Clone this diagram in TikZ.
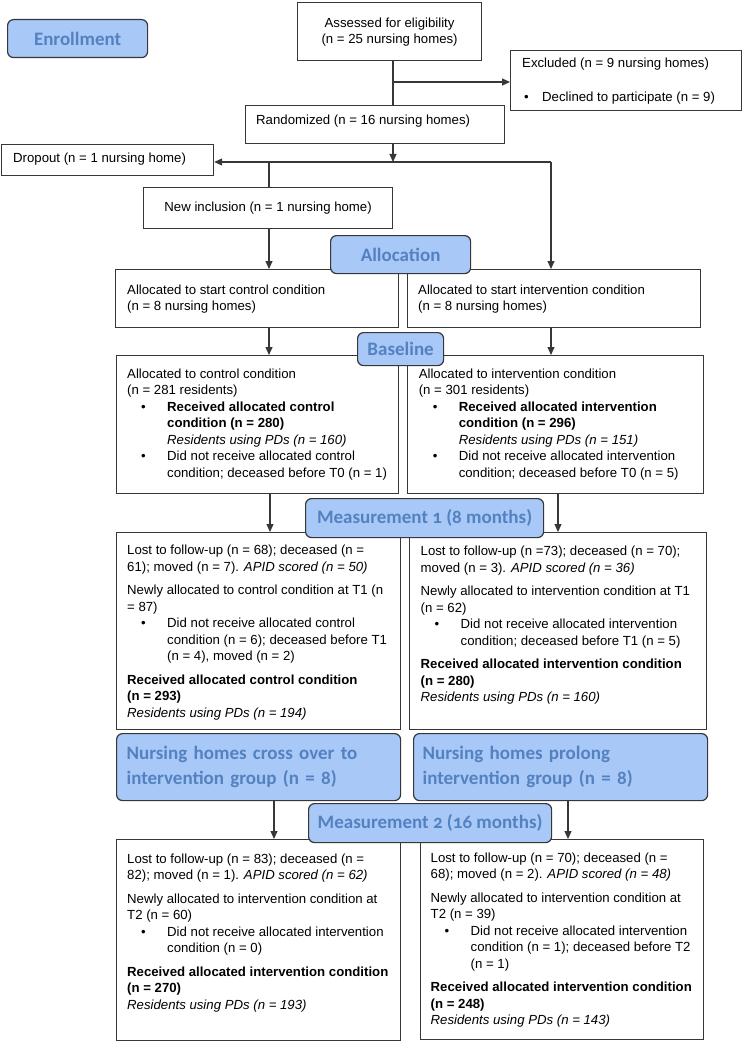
\documentclass[tikz,border=0pt]{standalone}
\usepackage{fontspec}
\setmainfont{Liberation Sans}
\newfontfamily\hdrfont{Carlito}[Numbers=OldStyle]
\usetikzlibrary{arrows.meta}
\definecolor{hfill}{RGB}{168,200,248}
\definecolor{htext}{RGB}{84,130,192}
\definecolor{bline}{RGB}{55,55,55}
\newcommand\st{\rule{0pt}{12pt}}
\newcommand\bul{\hspace*{14pt}\makebox[26pt][l]{\textbullet}}
\newcommand\cont{\hspace*{40pt}}
\begin{document}
\begin{tikzpicture}[x=1pt,y=-1pt,
  bx/.style={draw=bline, line width=1.2pt, fill=white, inner sep=0pt, anchor=north west},
  hd/.style={draw=bline, line width=1.2pt, fill=hfill, rounded corners=6pt, inner sep=0pt, anchor=north west, text=htext, font=\hdrfont\bfseries\fontsize{19}{25}\selectfont},
  tx/.style={inner sep=0pt, anchor=north west, align=left, font=\fontsize{13.2}{16.5}\selectfont},
  conn/.style={draw=bline, line width=1.1pt},
  arr/.style={conn, -{Triangle[length=8pt,width=7pt]}}
]
\useasboundingbox (0,0) rectangle (744,1043);

% content boxes
\node[bx, minimum width=184, minimum height=58, align=center, font=\fontsize{13.2}{16}\selectfont] (assess) at (297,2) {Assessed for eligibility\\(n = 25 nursing homes)};
\node[bx, minimum width=231, minimum height=60] (excl) at (510,50) {};
\node[bx, minimum width=259, minimum height=38] (rand) at (245,105) {};
\node[bx, minimum width=212, minimum height=31] (drop) at (1,144) {};
\node[bx, minimum width=249, minimum height=41, font=\fontsize{13.2}{16}\selectfont] (newinc) at (143,187) {New inclusion (n = 1 nursing home)};
\node[bx, minimum width=283, minimum height=58] (allocC) at (115,269) {};
\node[bx, minimum width=293, minimum height=58] (allocI) at (407,269) {};
\node[bx, minimum width=282, minimum height=138] (baseL) at (116,355) {};
\node[bx, minimum width=296, minimum height=138] (baseR) at (407,355) {};
\node[bx, minimum width=284, minimum height=197] (m1L) at (116,532) {};
\node[bx, minimum width=297, minimum height=197] (m1R) at (409,532) {};
\node[bx, minimum width=284, minimum height=201] (m2L) at (116,839) {};
\node[bx, minimum width=283, minimum height=200] (m2R) at (420,839) {};

% texts
\node[tx] (t-excl) at (522,55.8) {\st Excluded (n = 9 nursing homes)\\[17pt]\hspace*{2pt}\makebox[18pt][l]{\textbullet}Declined to participate (n = 9)};
\node[tx] (t-rand) at (256,112.5) {\st Randomized (n = 16 nursing homes)};
\node[tx] (t-drop) at (13,150.8) {\st Dropout (n = 1 nursing home)};
\node[tx] (t-allocC) at (127,281.8) {\st Allocated to start control condition\\(n = 8 nursing homes)};
\node[tx] (t-allocI) at (418,281.8) {\st Allocated to start intervention condition\\(n = 8 nursing homes)};

\node[tx] (t-baseL) at (127,365.8) {\st Allocated to control condition\\
(n = 281 residents)\\
\bul\textbf{Received allocated control}\\
\cont\textbf{condition (n = 280)}\\
\cont\textit{Residents using PDs (n = 160)}\\
\bul Did not receive allocated control\\
\cont condition; deceased before T0 (n = 1)};

\node[tx] (t-baseR) at (418.6,365.8) {\st Allocated to intervention condition\\
(n = 301 residents)\\
\bul\textbf{Received allocated intervention}\\
\cont\textbf{condition (n = 296)}\\
\cont\textit{Residents using PDs (n = 151)}\\
\bul Did not receive allocated intervention\\
\cont condition; deceased before T0 (n = 5)};

\node[tx] (t-m1L) at (127,542.5) {\st Lost to follow-up (n = 68); deceased (n =\\
61); moved (n = 7). \textit{APID scored (n = 50)}\\[7pt]
Newly allocated to control condition at T1 (n\\
= 87)\\
\bul Did not receive allocated control\\
\cont condition (n = 6); deceased before T1\\
\cont (n = 4), moved (n = 2)\\[7pt]
\textbf{Received allocated control condition}\\
\textbf{(n = 293)}\\
\textit{Residents using PDs (n = 194)}};

\node[tx] (t-m1R) at (420.5,543.5) {\st Lost to follow-up (n =73); deceased (n = 70);\\
moved (n = 3). \textit{APID scored (n = 36)}\\[7pt]
Newly allocated to intervention condition at T1\\
(n = 62)\\
\bul Did not receive allocated intervention\\
\cont condition; deceased before T1 (n = 5)\\[7pt]
\textbf{Received allocated intervention condition}\\
\textbf{(n = 280)}\\
\textit{Residents using PDs (n = 160)}};

\node[tx] (t-m2L) at (127,850.8) {\st Lost to follow-up (n = 83); deceased (n =\\
82); moved (n = 1). \textit{APID scored (n = 62)}\\[7pt]
Newly allocated to intervention condition at\\
T2 (n = 60)\\
\bul Did not receive allocated intervention\\
\cont condition (n = 0)\\[7pt]
\textbf{Received allocated intervention condition}\\
\textbf{(n = 270)}\\
\textit{Residents using PDs (n = 193)}};

\node[tx] (t-m2R) at (430.5,850.2) {\st Lost to follow-up (n = 70); deceased (n =\\
68); moved (n = 2). \textit{APID scored (n = 48)}\\[7pt]
Newly allocated to intervention condition at\\
T2 (n = 39)\\
\bul Did not receive allocated intervention\\
\cont condition (n = 1); deceased before T2\\
\cont (n = 1)\\[7pt]
\textbf{Received allocated intervention condition}\\
\textbf{(n = 248)}\\
\textit{Residents using PDs (n = 143)}};

% connectors
\coordinate (vx) at (393,82);
\coordinate (split) at (393,162);
\coordinate (rj) at (551,162);
\coordinate (lj) at (269,162);
\coordinate (c1) at (270,0);
\coordinate (c2) at (558,0);
\coordinate (c3) at (274,0);
\coordinate (c4) at (568,0);
\draw[conn] (assess.south -| vx) -- (rand.north -| vx);
\draw[arr] (vx) -- (excl.west |- vx);
\draw[arr] (rand.south -| split) -- (split);
\draw[arr] (rj) -- (drop.east |- rj);
\draw[conn] (lj) -- (newinc.north -| lj);
\draw[arr] (newinc.south -| lj) -- (allocC.north -| lj);
\draw[arr] (rj) -- (allocI.north -| rj);
\draw[arr] (allocC.south -| lj) -- (baseL.north -| lj);
\draw[arr] (allocI.south -| rj) -- (baseR.north -| rj);
\draw[arr] (baseL.south -| c1) -- (m1L.north -| c1);
\draw[arr] (baseR.south -| c2) -- (m1R.north -| c2);

% header boxes
\node[hd, minimum width=140, minimum height=38] (enroll) at (7,19) {Enrollment};
\node[hd, minimum width=140, minimum height=38] (alloc) at (330,235) {Allocation};
\node[hd, minimum width=86, minimum height=33] (basel) at (357,332) {Baseline};
\node[hd, minimum width=238, minimum height=39] (meas1) at (305,498) {Measurement 1 (8 months)};
\node[hd, minimum width=284, minimum height=67, text width=264, align=left] (cross) at (116,733) {Nursing homes cross over to\\intervention group (n = 8)};
\node[hd, minimum width=294, minimum height=67, text width=276, align=left] (prolong) at (413,733) {Nursing homes prolong\\intervention group (n = 8)};
\node[hd, minimum width=243, minimum height=39] (meas2) at (308,803) {Measurement 2 (16 months)};

\draw[arr] (cross.south -| c3) -- (m2L.north -| c3);
\draw[arr] (prolong.south -| c4) -- (m2R.north -| c4);
\end{tikzpicture}
\end{document}
